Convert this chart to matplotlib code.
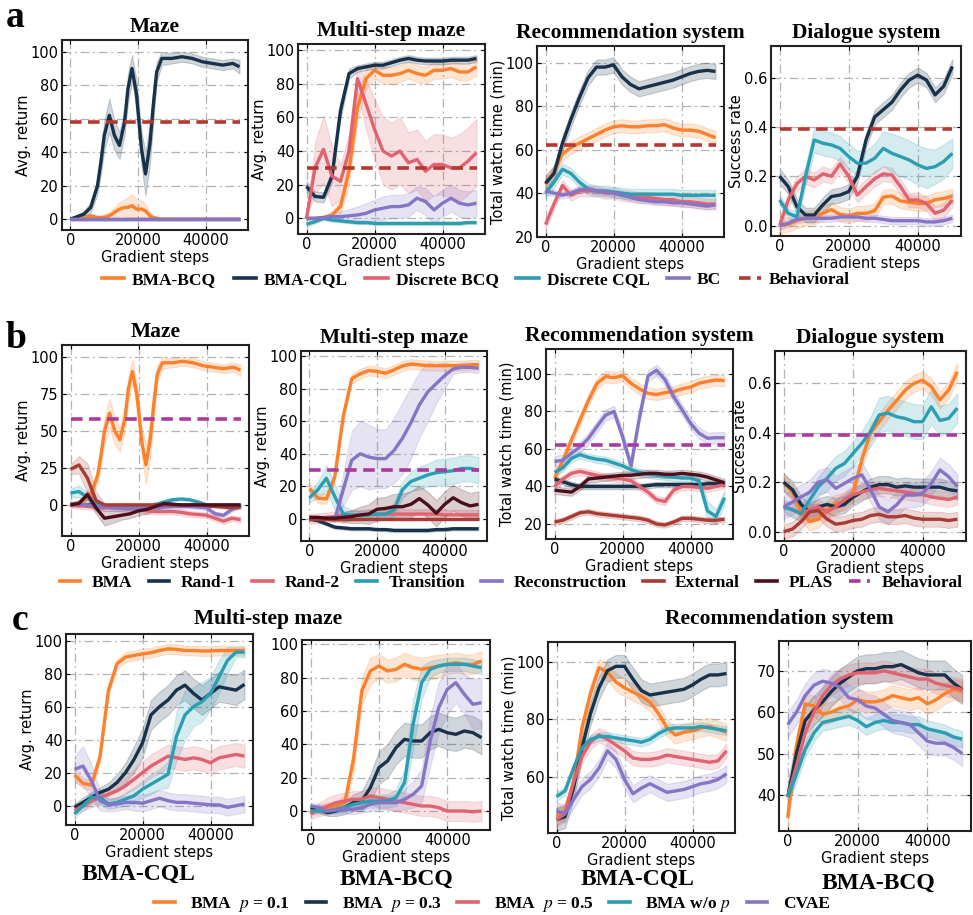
import numpy as np
import matplotlib
matplotlib.use("Agg")
import matplotlib.pyplot as plt
from matplotlib.lines import Line2D

plt.rcParams["font.family"] = "DejaVu Sans"
plt.rcParams["mathtext.fontset"] = "stix"
SERIF = "Liberation Serif"

# ---------------------------------------------------------------- data
STEPS = [0, 2500, 5000, 7500, 10000, 12500, 15000, 17500, 20000, 22500, 25000,
         27500, 30000, 32500, 35000, 37500, 40000, 42500, 45000, 47500, 50000]
# the maze curves oscillate, so they are read on a finer grid
MAZE_STEPS = [0, 2000, 4000, 6000, 8000, 9000, 10000, 11500, 13000, 14500, 16000,
              17000, 18200, 19500, 21000, 22200, 23500, 24500, 25500, 27000,
              30000, 33000, 36000, 39000, 42000, 45000, 48000, 50000]

MAZE_BEST = [0, 1.5, 3, 7, 20, 34, 50, 62, 50, 44, 58, 78, 90, 75, 42, 27, 45, 68,
             88, 96, 96, 97, 96, 94, 93, 92, 93, 91]
MAZE_BEST_SD = [0, 1, 2, 3, 5, 7, 9, 10, 9, 8, 8, 9, 8, 8, 10, 13, 12, 10, 6, 4,
                3, 3, 3, 3, 3, 3, 3, 4]
MAZE_BCQ = [0, 0, 1, 2, 1, 1, 1, 2, 4, 6, 7, 7, 8, 6, 6, 5, 2, 1, 0.5, 0, 0, 0, 0,
            0, 0, 0, 0, 0]
MAZE_BCQ_SD = [0, 0, 1, 1, 1, 1, 2, 2, 3, 4, 5, 6, 7, 6, 5, 4, 2, 1, 1, 0, 0, 0, 0,
               0, 0, 0, 0, 0]
FLAT_ZERO = [0, 0, 0, 0, 0, 0, 0, 0, 0, 0, 0, 0, 0, 0, 0, 0, 0, 0, 0, 0, 0]

# ---- row a: BMA vs. baselines
A_LABELS = ["BMA-BCQ", "BMA-CQL", "Discrete BCQ", "Discrete CQL", "BC"]

a_maze = {"BMA-BCQ": MAZE_BCQ, "BMA-CQL": MAZE_BEST, "Discrete BCQ": FLAT_ZERO,
          "Discrete CQL": FLAT_ZERO, "BC": FLAT_ZERO}
a_maze_sd = {"BMA-BCQ": MAZE_BCQ_SD, "BMA-CQL": MAZE_BEST_SD}
a_maze_x = {"BMA-BCQ": MAZE_STEPS, "BMA-CQL": MAZE_STEPS}

a_multi = {
    "BMA-BCQ": [0, 0, 0.5, 2, 7, 28, 66, 83, 88, 85, 85, 86, 88, 86, 85, 88, 88, 89, 87, 87, 90],
    "BMA-CQL": [19, 13, 12.5, 25, 64, 86, 89, 90, 91, 91, 92.5, 94, 95, 94, 93.5, 93.5, 93.5, 94, 94, 94, 95],
    "Discrete BCQ": [0, 30, 41, 25, 22, 40, 83, 68, 53, 40, 37, 40, 33, 35, 28, 32, 32, 30, 30, 34, 39],
    "Discrete CQL": [-3.5, -2, 0, -1, -1.5, -2, -2.5, -2.5, -3, -3, -3, -3, -3, -3, -3, -3, -3, -3, -3, -2.5, -2.5],
    "BC": [0, 0, 0.5, 1, 1, 1.5, 2, 3, 5, 6, 7, 7, 8, 12, 10, 5, 9, 12, 9, 8, 9],
}
a_multi_sd = {
    "BMA-BCQ": [1, 1, 1, 2, 4, 8, 8, 6, 5, 5, 5, 5, 5, 5, 5, 5, 5, 5, 5, 5, 5],
    "BMA-CQL": [3, 3, 3, 4, 5, 3, 2, 2, 2, 2, 2, 2, 2, 2, 2, 2, 2, 2, 2, 2, 2],
    "Discrete BCQ": [0, 15, 20, 18, 10, 10, 8, 15, 18, 20, 20, 20, 18, 18, 18, 18, 18, 18, 20, 20, 20],
    "Discrete CQL": 1,
    "BC": [1, 1, 1, 2, 3, 4, 5, 6, 6, 7, 7, 7, 7, 7, 8, 8, 8, 8, 8, 8, 8],
}

a_rec = {
    "BMA-BCQ": [44, 50, 58, 61, 63, 65, 67, 69, 70.5, 71, 70.5, 70.5, 71, 71, 71.5, 70, 69, 69, 68.5, 67, 65.5],
    "BMA-CQL": [44.5, 49, 63, 74, 84, 93, 98, 98, 99, 93.5, 90, 88, 89, 90, 91, 92, 93.5, 95, 96, 96.5, 96],
    "Discrete BCQ": [25.5, 35, 43.5, 39, 41, 41, 41, 40, 40, 39, 38.5, 38, 38, 37.5, 37, 37, 36, 36, 35.5, 35, 35],
    "Discrete CQL": [40, 45, 51, 49, 45, 42, 41, 41, 40.5, 40, 39.5, 39.5, 39.5, 39.5, 39.5, 39.5, 39, 39, 39, 39, 39],
    "BC": [41, 40, 39, 40, 41.5, 42, 41, 40.5, 40, 39, 38, 37, 36.5, 36, 36, 35.5, 35.5, 35, 34.5, 34, 34.5],
}
a_rec_sd = {"BMA-BCQ": 3, "BMA-CQL": 3.5, "Discrete BCQ": 2.5, "Discrete CQL": 2.5, "BC": 1.5}

a_dial = {
    "BMA-BCQ": [0, 0.005, 0.02, 0.03, 0.035, 0.05, 0.065, 0.045, 0.04, 0.05, 0.05, 0.06, 0.115, 0.12, 0.1, 0.095, 0.09, 0.09, 0.105, 0.11, 0.12],
    "BMA-CQL": [0.2, 0.158, 0.077, 0.043, 0.043, 0.084, 0.118, 0.124, 0.138, 0.2, 0.347, 0.44, 0.47, 0.5, 0.55, 0.59, 0.61, 0.59, 0.53, 0.565, 0.645],
    "Discrete BCQ": [0.0, 0.104, 0.17, 0.2, 0.185, 0.21, 0.2, 0.25, 0.2, 0.124, 0.158, 0.19, 0.21, 0.205, 0.158, 0.104, 0.104, 0.09, 0.05, 0.063, 0.104],
    "Discrete CQL": [0.104, 0.05, 0.036, 0.2, 0.347, 0.334, 0.327, 0.313, 0.28, 0.253, 0.253, 0.273, 0.313, 0.293, 0.28, 0.266, 0.246, 0.232, 0.239, 0.26, 0.293],
    "BC": [0.0, 0.01, 0.025, 0.03, 0.03, 0.03, 0.03, 0.035, 0.035, 0.035, 0.03, 0.03, 0.025, 0.02, 0.02, 0.02, 0.02, 0.015, 0.015, 0.02, 0.03],
}
a_dial_sd = {
    "BMA-BCQ": 0.03, "BMA-CQL": 0.03, "Discrete BCQ": 0.03, "BC": 0.015,
    "Discrete CQL": [0.02, 0.02, 0.02, 0.04, 0.05, 0.05, 0.05, 0.05, 0.05, 0.05, 0.05, 0.06, 0.07, 0.08, 0.08, 0.08, 0.08, 0.08, 0.07, 0.07, 0.06],
}
A_BEHAVIORAL = [58, 30, 62, 0.39]

# ---- row b: ablation of the action model
B_LABELS = ["BMA", "Rand-1", "Rand-2", "Transition", "Reconstruction", "External", "PLAS"]

b_maze = {
    "BMA": MAZE_BEST,
    "Rand-1": [0, 0, 0, 0, -0.5, -0.5, -0.5, -0.5, -0.5, -0.5, -0.5, -0.5, -0.5, -0.5, -0.5, -0.5, -0.5, -0.5, -0.5, -0.5, -0.5],
    "Rand-2": [0, -0.5, -1, -1.5, -2, -2, -2.5, -2.5, -3, -4, -4.5, -4.5, -4.5, -5, -6, -6.5, -7, -9, -11, -9, -10],
    "Transition": [8, 9, 5, 0, -1, -1.5, -2, -2, -2, -2, 0, 2, 3.5, 4, 3.5, 2, 0, 0, 0, 0, 0],
    "Reconstruction": [1, 0.5, 0, -1, -1.5, -2, -2, -2, -2, -2, -2, -1.5, -1, -1, -1, -1.5, -2, -6, -7, -3, -1],
    "External": [24, 27, 18, 3, 0, 0, 0, 0, 0, 0, 0, 0, 0, 0, 0, 0, -0.5, -1, -1.5, -2, -1.5],
    "PLAS": [0, 1, 7, -2, -9, -8, -7, -6, -4, -3, -1, 1, 0.5, 0, 0, 0, 0, 0, 0, 0, 0],
}
b_maze_sd = {
    "BMA": MAZE_BEST_SD, "Rand-1": 1, "Rand-2": 2, "Reconstruction": 1.5,
    "Transition": [3, 4, 3, 2, 1, 1, 1, 1, 1, 1, 1, 1, 1, 1, 1, 1, 1, 1, 1, 1, 1],
    "External": [3, 6, 10, 6, 1, 1, 1, 1, 1, 1, 1, 1, 1, 1, 1, 1, 1, 1, 1, 1, 1],
    "PLAS": [1, 2, 3, 4, 5, 4, 3, 3, 3, 3, 3, 2, 1, 1, 1, 1, 1, 1, 1, 1, 1],
}
b_maze_x = {"BMA": MAZE_STEPS}

b_multi = {
    "BMA": [18.8, 12.7, 12.3, 26, 63, 86, 89, 91, 90.5, 89.4, 91.4, 93.9, 95, 94.5, 94, 94, 94, 94, 94, 94.5, 94.7],
    "Rand-1": [0, -1, -3, -5, -5.5, -6, -6, -6, -6.5, -6.5, -7, -7, -7, -7, -7, -6.5, -6.5, -6, -6, -6, -6],
    "Rand-2": [0, 0.5, 1, 1.5, 2, 2, 2.5, 3, 3, 3, 3, 3, 3, 3, 3, 3, 2.5, 2.5, 2.5, 2.5, 2.5],
    "Transition": [13, 18, 25, 13.7, 3, 2.5, 2, 2.5, 3, 3, 5.5, 18, 23, 25, 27, 28.4, 29, 29.6, 31, 31, 30],
    "Reconstruction": [0.5, 0.5, 0, 0, 18, 36, 40, 38, 37, 37, 42, 49.5, 59, 70, 78, 83, 88, 92, 93, 93, 92.5],
    "External": FLAT_ZERO,
    "PLAS": [1, 1, 0.5, 0.5, 1, 1.5, 2.5, 3, 6, 6.5, 7.5, 7.5, 9, 12.5, 8.6, 3.5, 9, 13, 10, 8, 9],
}
b_multi_sd = {
    "BMA": 3, "Rand-1": 1, "Rand-2": 3, "External": 0.5,
    "Transition": [3, 5, 8, 8, 5, 3, 3, 3, 3, 3, 4, 5, 6, 7, 7, 8, 8, 8, 8, 8, 8],
    "Reconstruction": [1, 1, 1, 2, 10, 18, 20, 20, 18, 18, 20, 22, 22, 20, 18, 12, 8, 3, 3, 3, 3],
    "PLAS": [1, 1, 1, 2, 3, 4, 5, 6, 7, 7, 8, 8, 8, 8, 8, 8, 8, 8, 8, 8, 8],
}

b_rec = {
    "BMA": [44.4, 54, 64.8, 75.5, 86, 95, 98.6, 98, 99, 95, 92, 89.7, 89, 90, 90.6, 92, 93, 95, 96, 96.8, 96.4],
    "Rand-1": [44, 42.5, 41, 40, 40, 40, 40, 40, 40, 40, 40, 40.5, 41, 41, 41, 41, 41, 41, 41.5, 41.5, 41.5],
    "Rand-2": [40, 44, 47, 48, 47, 46, 45, 44.5, 44, 43, 40, 37, 33, 32, 38, 40, 40, 39.5, 39, 40, 41],
    "Transition": [47.5, 50, 55, 57, 55.5, 54.5, 54, 52.5, 51, 49, 47.5, 46.5, 46, 45.5, 45, 44.5, 44.5, 43, 27, 24, 34],
    "Reconstruction": [53.3, 54, 57.8, 61, 65.7, 72, 78, 80, 66.7, 51, 77, 99, 102, 97, 88, 81, 73.7, 68.4, 65.7, 66, 66],
    "External": [21, 22, 24, 26, 26.5, 25.5, 25, 24.5, 24, 23.5, 23, 22, 20, 19.5, 21, 23, 23, 22.5, 22, 22, 22.5],
    "PLAS": [38, 37.5, 37, 40, 44, 44.5, 45, 45.5, 46, 46, 46.5, 47, 47, 46.5, 46.5, 47, 46.5, 46, 45, 43.5, 42],
}
b_rec_sd = {"BMA": 3, "Rand-1": 1.5, "Rand-2": 2, "Reconstruction": 3, "External": 1.5, "PLAS": 2,
            "Transition": [2, 2, 2, 2, 2, 2, 2, 2, 2, 2, 2, 2, 2, 2, 2, 2, 2, 3, 5, 4, 4]}

b_dial = {
    "BMA": [0.2, 0.16, 0.08, 0.04, 0.05, 0.09, 0.115, 0.12, 0.155, 0.29, 0.4, 0.445, 0.49, 0.53, 0.573, 0.6, 0.613, 0.587, 0.533, 0.573, 0.647],
    "Rand-1": [0.2, 0.17, 0.11, 0.08, 0.1, 0.11, 0.1, 0.11, 0.14, 0.16, 0.18, 0.19, 0.19, 0.18, 0.185, 0.18, 0.18, 0.18, 0.18, 0.17, 0.165],
    "Rand-2": [0.1, 0.09, 0.07, 0.09, 0.1, 0.08, 0.1, 0.13, 0.15, 0.16, 0.17, 0.175, 0.17, 0.165, 0.16, 0.155, 0.15, 0.14, 0.135, 0.13, 0.14],
    "Transition": [0.1, 0.088, 0.074, 0.128, 0.182, 0.216, 0.256, 0.276, 0.317, 0.357, 0.404, 0.472, 0.48, 0.465, 0.458, 0.445, 0.445, 0.505, 0.45, 0.458, 0.5],
    "Reconstruction": [0.1, 0.12, 0.14, 0.16, 0.2, 0.21, 0.175, 0.195, 0.216, 0.23, 0.17, 0.1, 0.08, 0.108, 0.148, 0.148, 0.155, 0.195, 0.25, 0.222, 0.182],
    "External": [0.0, 0.01, 0.04, 0.08, 0.085, 0.05, 0.03, 0.035, 0.045, 0.05, 0.065, 0.07, 0.06, 0.06, 0.065, 0.055, 0.05, 0.05, 0.05, 0.045, 0.05],
}
b_dial_sd = {"BMA": 0.035, "Rand-1": 0.035, "Rand-2": 0.03, "Reconstruction": 0.05, "External": 0.03,
             "Transition": [0.02, 0.03, 0.03, 0.04, 0.04, 0.05, 0.05, 0.05, 0.05, 0.05, 0.06, 0.07, 0.07, 0.07, 0.07, 0.07, 0.07, 0.07, 0.06, 0.06, 0.06]}
B_BEHAVIORAL = [58, 30, 62, 0.39]

# ---- row c: sensitivity to p
C_LABELS = ["p0.1", "p0.3", "p0.5", "nop", "CVAE"]
C_NAMES = ["BMA  $p$ = 0.1", "BMA  $p$ = 0.3", "BMA  $p$ = 0.5", "BMA w/o $p$", "CVAE"]

c_maze_cql = {
    "p0.1": [18.6, 13.5, 12.5, 29.7, 70, 86, 90, 91, 92, 92.7, 94, 95, 94.7, 94, 94, 93.7, 93.7, 94, 94, 94, 94],
    "p0.3": [-1, 2, 5, 8, 10, 14, 20, 28, 38, 55, 60, 64, 70, 73, 68, 64, 68, 72, 71, 70, 73.5],
    "p0.5": [-3, 0, 3, 5, 7, 9, 12, 16, 20, 24, 27, 30, 29, 28, 29, 28, 26, 29, 30, 31, 30],
    "nop": [-5, 0, 5, 5, 1, 2, 4, 6, 10, 13, 16, 19, 42, 55, 60, 63, 68, 78, 88, 93, 93],
    "CVAE": [22, 24, 15, 3, 0.5, 1, 2, 2, 1.5, 3, 4.5, 3, 2, 2, 1.5, 1, 0.5, 0.5, -1, 0, 1],
}
c_maze_cql_sd = {
    "p0.1": 3,
    "p0.3": [2, 3, 3, 3, 4, 5, 6, 8, 9, 9, 9, 9, 9, 9, 9, 9, 9, 9, 9, 9, 9],
    "p0.5": [2, 3, 4, 4, 4, 5, 5, 6, 7, 7, 7, 7, 7, 7, 7, 7, 7, 7, 7, 7, 7],
    "nop": [2, 3, 4, 4, 3, 3, 4, 5, 5, 6, 6, 8, 15, 15, 12, 12, 10, 10, 8, 3, 3],
    "CVAE": [8, 12, 10, 6, 4, 4, 4, 5, 5, 5, 5, 5, 5, 5, 5, 5, 5, 5, 5, 5, 5],
}

c_maze_bcq = {
    "p0.1": [0, 1, 2, 3, 5, 30, 72, 84, 87, 84, 85, 88, 86, 85, 86, 87, 88, 89, 88, 88, 90],
    "p0.3": [2, 1, -1, 0, 2, 5, 6, 14, 26, 30, 38, 43, 42, 42, 47, 49, 47, 46, 48, 47, 44],
    "p0.5": [-2, 1, 3, 5, 6, 7, 7, 9, 8, 7, 6, 5, 4, 3, 3, 2, 0, 0, 0, -0.5, 0],
    "nop": [0, 0, 0, 1, 2, 4, 5, 6, 6, 6, 8, 17, 52, 77, 85, 87, 88, 88, 88, 87, 86],
    "CVAE": [3, 2, 0, 0.5, 1, 1, 2, 4, 5, 5, 5, 7, 10, 15, 42, 62, 73, 77, 70, 64, 65],
}
c_maze_bcq_sd = {
    "p0.1": [2, 3, 3, 3, 4, 8, 8, 8, 7, 7, 7, 7, 7, 7, 7, 7, 6, 6, 6, 6, 6],
    "p0.3": [2, 2, 2, 3, 4, 5, 6, 8, 10, 10, 10, 10, 10, 10, 10, 10, 10, 10, 10, 10, 10],
    "p0.5": [3, 4, 5, 5, 5, 5, 5, 5, 6, 6, 6, 6, 6, 6, 6, 6, 6, 6, 6, 6, 6],
    "nop": [1, 1, 1, 2, 2, 3, 4, 4, 4, 4, 5, 8, 15, 10, 5, 4, 4, 4, 4, 4, 4],
    "CVAE": [2, 2, 2, 2, 2, 3, 3, 4, 4, 4, 5, 6, 8, 10, 15, 15, 15, 12, 12, 15, 15],
}

c_rec_cql = {
    "p0.1": [46, 48, 58, 77, 89, 98, 96.5, 93, 91, 89.5, 88, 86, 82, 77, 74.5, 75.5, 76, 77, 77.5, 76.5, 75.5],
    "p0.3": [45, 46, 56, 70, 82, 91, 97, 98.5, 98.5, 94, 90, 88.5, 89, 89.5, 90, 90.5, 92, 94, 95.5, 95.5, 96],
    "p0.5": [45, 47, 58, 67, 72, 74.5, 73, 71, 69, 66.5, 66, 66, 66.5, 67.5, 67, 66.5, 66, 65.5, 65, 65.5, 69],
    "nop": [53, 55, 63, 70, 73, 74, 74, 73.5, 73, 72.5, 72, 73, 75, 76.5, 77, 77, 77, 77.5, 77, 76.5, 76],
    "CVAE": [48, 47, 52, 56.5, 59, 63, 69, 66, 59, 54, 56, 57.5, 56, 54.5, 55, 55.5, 56.5, 57.5, 58, 59, 61],
}
c_rec_cql_sd = {"p0.1": 3, "p0.3": 4, "p0.5": 2.5, "nop": 1.5, "CVAE": 3}

c_rec_bcq = {
    "p0.1": [34.5, 52, 62, 61.5, 59.5, 60, 61, 61.5, 63, 62.5, 62.5, 63, 64, 63.5, 63, 63.5, 62, 63, 64.5, 65.5, 65],
    "p0.3": [39.5, 50, 58, 60.5, 62.5, 65, 67, 68.5, 70, 70.5, 70.5, 71, 71, 71.5, 70.5, 69.5, 69, 69, 69, 67, 65.5],
    "p0.5": [39.5, 47, 55, 60, 64, 66.5, 68, 69, 69.5, 69.5, 69.5, 70, 69.5, 69, 68.5, 68, 68, 67, 66.5, 66, 65.5],
    "nop": [39.5, 45, 51, 55, 57.5, 58, 58.5, 59, 58, 56.5, 57.5, 58, 57.5, 57.5, 57, 57, 56, 55.5, 55, 54, 53.5],
    "CVAE": [57, 60, 64, 66.5, 67.5, 67, 66, 63.5, 63, 61.5, 61, 59.5, 58, 57.5, 57, 55, 53, 52.5, 52.5, 51.5, 50],
}
c_rec_bcq_sd = {"p0.1": 2.5, "p0.3": 3.5, "p0.5": 2.5, "nop": 2, "CVAE": 3}

# ---------------------------------------------------------------- style
ORANGE = "#fd802b"
NAVY = "#17324a"
PINK = "#e0636f"
TEAL = "#2b9eb3"
PURPLE = "#8674c6"
BROWN = "#a83c35"
MAROON = "#4b0f1c"
BEHAV_A = "#b3382f"
BEHAV_B = "#ab3aa0"

A_COLORS = dict(zip(A_LABELS, [ORANGE, NAVY, PINK, TEAL, PURPLE]))
B_COLORS = dict(zip(B_LABELS, [ORANGE, NAVY, PINK, TEAL, PURPLE, BROWN, MAROON]))
C_COLORS = dict(zip(C_LABELS, [ORANGE, NAVY, PINK, TEAL, PURPLE]))

W, H = 973, 915
fig = plt.figure(figsize=(W / 100, H / 100), dpi=100)


def add_ax(l, t, r, b):
    return fig.add_axes([l / W, 1 - b / H, (r - l) / W, (b - t) / H])


def draw_panel(ax, series, spreads, colors, ylim, yticks, ylabel=None,
               behavioral=None, behav_color=None, xs=None, title=None):
    xs = xs or {}
    for name, ys in series.items():
        x = np.asarray(xs.get(name, STEPS), float)
        y = np.asarray(ys, float)
        sd = np.broadcast_to(np.asarray(spreads.get(name, 0), float), y.shape)
        ax.fill_between(x, y - sd, y + sd, color=colors[name], alpha=0.2, lw=0.8)
        ax.plot(x, y, color=colors[name], lw=2.4, solid_capstyle="butt")
    if behavioral is not None:
        ax.plot(STEPS, [behavioral] * len(STEPS), color=behav_color, lw=2.6,
                ls=(0, (3.2, 1.8)))
    ax.set_xlim(-2500, 52500)
    ax.set_ylim(*ylim)
    ax.set_xticks([0, 20000, 40000])
    ax.set_yticks(yticks)
    ax.grid(True, ls=(0, (7, 3, 1.5, 3)), color="#b3b3b3", lw=0.9)
    ax.set_axisbelow(True)
    ax.tick_params(direction="in", length=3, labelsize=10.5, pad=2.5,
                   right=True, top=True)
    for s in ax.spines.values():
        s.set_linewidth(1.5)
        s.set_color("#222222")
    ax.set_xlabel("Gradient steps", fontsize=10.5, labelpad=1)
    if ylabel:
        ax.set_ylabel(ylabel, fontsize=10.5, labelpad=0)
    if title:
        ax.set_title(title, fontsize=15.5, fontweight="bold", family=SERIF, pad=6)


TITLE_FONT = dict(fontsize=15.5, fontweight="bold", family=SERIF)
dial_ticks = [0.0, 0.2, 0.4, 0.6]

# row a
ax = add_ax(62, 40, 248, 230)
draw_panel(ax, a_maze, a_maze_sd, A_COLORS, (-6.5, 107), [0, 20, 40, 60, 80, 100],
           "Avg. return", A_BEHAVIORAL[0], BEHAV_A, a_maze_x, "Maze")
ax = add_ax(298, 44, 485, 234)
draw_panel(ax, a_multi, a_multi_sd, A_COLORS, (-9.3, 103.6), [0, 20, 40, 60, 80, 100],
           "Avg. return", A_BEHAVIORAL[1], BEHAV_A, title="Multi-step maze")
ax = add_ax(537, 46, 724, 237)
draw_panel(ax, a_rec, a_rec_sd, A_COLORS, (19.8, 107.7), [20, 40, 60, 80, 100],
           "Total watch time (min)", A_BEHAVIORAL[2], BEHAV_A, title="Recommendation system")
ax = add_ax(771, 46, 961, 236)
draw_panel(ax, a_dial, a_dial_sd, A_COLORS, (-0.042, 0.728), dial_ticks,
           "Success rate", A_BEHAVIORAL[3], BEHAV_A, title="Dialogue system")

# row b
ax = add_ax(62, 345, 249, 536)
draw_panel(ax, b_maze, b_maze_sd, B_COLORS, (-21, 108), [0, 25, 50, 75, 100],
           "Avg. return", B_BEHAVIORAL[0], BEHAV_B, b_maze_x, "Maze")
ax = add_ax(301, 351, 487, 541)
draw_panel(ax, b_multi, b_multi_sd, B_COLORS, (-13.5, 103), [0, 20, 40, 60, 80, 100],
           "Avg. return", B_BEHAVIORAL[1], BEHAV_B, title="Multi-step maze")
ax = add_ax(546, 349, 733, 539)
draw_panel(ax, b_rec, b_rec_sd, B_COLORS, (12, 113.3), [20, 40, 60, 80, 100],
           "Total watch time (min)", B_BEHAVIORAL[2], BEHAV_B, title="Recommendation system")
ax = add_ax(775, 351, 966, 541)
draw_panel(ax, b_dial, b_dial_sd, B_COLORS, (-0.038, 0.731), dial_ticks,
           "Success rate", B_BEHAVIORAL[3], BEHAV_B, title="Dialogue system")

# row c
ax = add_ax(66, 634, 253, 825)
draw_panel(ax, c_maze_cql, c_maze_cql_sd, C_COLORS, (-11.7, 104), [0, 20, 40, 60, 80, 100],
           "Avg. return")
ax = add_ax(302, 640, 490, 830)
draw_panel(ax, c_maze_bcq, c_maze_bcq_sd, C_COLORS, (-11.4, 102.6), [0, 20, 40, 60, 80, 100])
ax = add_ax(548, 642, 735, 833)
draw_panel(ax, c_rec_cql, c_rec_cql_sd, C_COLORS, (40.3, 107), [60, 80, 100],
           "Total watch time (min)")
ax = add_ax(779, 641, 971, 831)
draw_panel(ax, c_rec_bcq, c_rec_bcq_sd, C_COLORS, (31.3, 77.2), [40, 50, 60, 70])

fig.text(268 / W, 1 - 619 / H, "Multi-step maze", ha="center", va="center", **TITLE_FONT)
fig.text(779 / W, 1 - 619 / H, "Recommendation system", ha="center", va="center", **TITLE_FONT)
for cx, cy, txt in [(139, 874, "BMA-CQL"), (396, 879, "BMA-BCQ"),
                    (638, 879, "BMA-CQL"), (879, 883, "BMA-BCQ")]:
    fig.text(cx / W, 1 - cy / H, txt, ha="center", va="center", fontsize=17,
             fontweight="bold", family=SERIF)

# panel letters
for lx, by, letter in [(6, 27, "a"), (5, 348, "b"), (12, 630, "c")]:
    fig.text(lx / W, 1 - by / H, letter, ha="left", va="baseline", fontsize=27,
             fontweight="bold", family=SERIF)

# legends
LEG_PROP = {"family": SERIF, "weight": "bold", "size": 12.5}


def make_handles(labels, colors, behav_color=None):
    hs = [Line2D([], [], color=colors[k], lw=2.6) for k in labels]
    if behav_color:
        hs.append(Line2D([], [], color=behav_color, lw=2.6, ls=(0, (3.2, 1.8))))
    return hs


fig.legend(make_handles(A_LABELS, A_COLORS, BEHAV_A), A_LABELS + ["Behavioral"],
           loc="center", bbox_to_anchor=(476 / W, 1 - 280 / H), ncol=6, frameon=False,
           prop=LEG_PROP, handlelength=1.3, handletextpad=0.45, columnspacing=1.0,
           borderpad=0.1)
fig.legend(make_handles(B_LABELS, B_COLORS, BEHAV_B), B_LABELS + ["Behavioral"],
           loc="center", bbox_to_anchor=(511 / W, 1 - 583 / H), ncol=8, frameon=False,
           prop=LEG_PROP, handlelength=1.2, handletextpad=0.65, columnspacing=0.95,
           borderpad=0.1)
fig.legend(make_handles(C_LABELS, C_COLORS), C_NAMES,
           loc="center", bbox_to_anchor=(492 / W, 1 - 905 / H), ncol=5, frameon=False,
           prop=LEG_PROP, handlelength=1.2, handletextpad=0.9, columnspacing=0.9,
           borderpad=0.1)

fig.savefig("out.png", dpi=100)
